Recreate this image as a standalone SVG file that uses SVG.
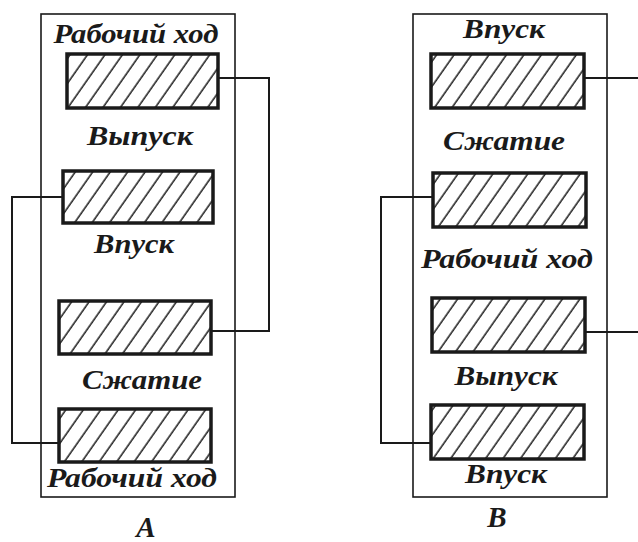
<svg xmlns="http://www.w3.org/2000/svg" width="638" height="542" viewBox="0 0 638 542">
<defs>
<pattern id="hatch" patternUnits="userSpaceOnUse" width="14.3" height="40" patternTransform="rotate(35)">
<line x1="3" y1="0" x2="3" y2="40" stroke="#1a1a1a" stroke-width="1.5"/>
</pattern>
</defs>
<style>
.frame{fill:none;stroke:#1a1a1a;stroke-width:1.6}
.blk{fill:url(#hatch);stroke:#1a1a1a;stroke-width:3.5}
.wire{fill:none;stroke:#1a1a1a;stroke-width:2}
.lbl{font-family:"Liberation Serif","Times New Roman",serif;font-weight:bold;font-style:italic;font-size:27px;fill:#1a1a1a;text-anchor:middle}
.cap{font-family:"Liberation Serif","Times New Roman",serif;font-weight:bold;font-style:italic;font-size:29px;fill:#1a1a1a;text-anchor:middle}
</style>
<rect x="0" y="0" width="638" height="542" fill="#ffffff"/>
<g id="panelA">
<rect class="frame" x="41" y="14" width="194" height="483"/>
<text class="lbl" x="136" y="43" textLength="165" lengthAdjust="spacingAndGlyphs">Рабочий ход</text>
<text class="lbl" x="140" y="145" textLength="106" lengthAdjust="spacingAndGlyphs">Выпуск</text>
<text class="lbl" x="134" y="253" textLength="80" lengthAdjust="spacingAndGlyphs">Впуск</text>
<text class="lbl" x="142" y="389" textLength="120" lengthAdjust="spacingAndGlyphs">Сжатие</text>
<text class="lbl" x="132" y="487" textLength="170" lengthAdjust="spacingAndGlyphs">Рабочий ход</text>
<text class="cap" x="146" y="537">A</text>
</g>
<g id="A1"><rect class="blk" x="67" y="54" width="151" height="54"/></g>
<g id="A2"><rect class="blk" x="63" y="171" width="150" height="52"/></g>
<g id="A3"><rect class="blk" x="59" y="301" width="152" height="53"/></g>
<g id="A4"><rect class="blk" x="59" y="409" width="152" height="53"/></g>
<g id="panelB">
<rect class="frame" x="413" y="14" width="194" height="483"/>
<text class="lbl" x="504" y="38" textLength="82" lengthAdjust="spacingAndGlyphs">Впуск</text>
<text class="lbl" x="504" y="150" textLength="122" lengthAdjust="spacingAndGlyphs">Сжатие</text>
<text class="lbl" x="507" y="268" textLength="172" lengthAdjust="spacingAndGlyphs">Рабочий ход</text>
<text class="lbl" x="506" y="385" textLength="103" lengthAdjust="spacingAndGlyphs">Выпуск</text>
<text class="lbl" x="506" y="483" textLength="82" lengthAdjust="spacingAndGlyphs">Впуск</text>
<text class="cap" x="497" y="527">B</text>
</g>
<g id="B1"><rect class="blk" x="431" y="54" width="153" height="54"/></g>
<g id="B2"><rect class="blk" x="433" y="173" width="153" height="54"/></g>
<g id="B3"><rect class="blk" x="432" y="298" width="153" height="54"/></g>
<g id="B4"><rect class="blk" x="431" y="405" width="153" height="54"/></g>
<g id="connectors">
<polyline class="wire" points="218,78 269,78 269,331 211,331"/>
<polyline class="wire" points="63,197 12,197 12,443 59,443"/>
<line class="wire" x1="584" y1="78" x2="638" y2="78"/>
<line class="wire" x1="585" y1="332" x2="638" y2="332"/>
<polyline class="wire" points="433,197 381,197 381,443 431,443"/>
</g>
</svg>
